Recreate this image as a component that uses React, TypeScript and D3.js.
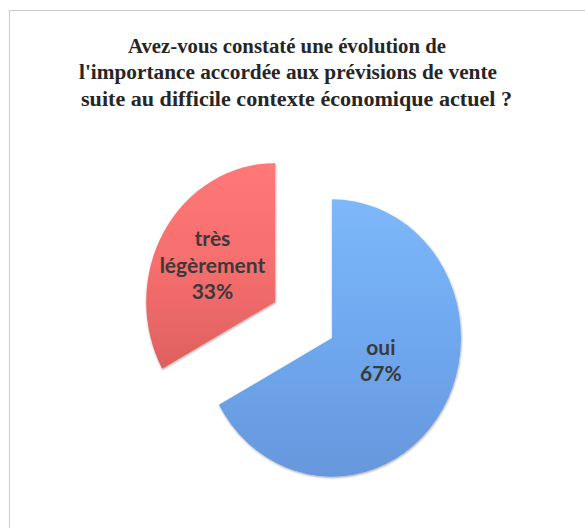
import React from 'react';
import * as d3 from 'd3';

const titleLines = [
  "Avez-vous constaté une évolution de",
  "l'importance accordée aux prévisions de vente",
  "suite au difficile contexte économique actuel ?",
];
const categories = ["oui", "très légèrement"];
const values = [67, 33];
const percentLabels = ["67%", "33%"];
const labelWords = [["oui"], ["très", "légèrement"]];

const W = 585;
const H = 528;
const cx = 332;
const cy = 338;
const R = 129;
const SY = 1.075;
const EXPLODE = [0, 66];
const titleBox = [
  { x: 128, w: 318 },
  { x: 79, w: 418 },
  { x: 81, w: 431 },
];
const palette = [
  { top: "#7db8fa", mid: "#6fa8ef", bottom: "#6697dc" },
  { top: "#ff7878", mid: "#f66e6e", bottom: "#de6060" },
];

export default function App() {
  const pie = d3.pie<number>().sort(null).value((d) => d);
  const arcs = pie(values);
  const arc = d3.arc<d3.PieArcDatum<number>>().innerRadius(0).outerRadius(R);

  return (
    <svg
      width={W}
      height={H}
      style={{ position: 'absolute', left: 0, top: 0, background: '#fff' }}
    >
      <defs>
        {palette.map((p, i) => (
          <linearGradient key={i} id={`g${i}`} x1="0" y1="0" x2="0" y2="1">
            <stop offset="0%" stopColor={p.top} />
            <stop offset="50%" stopColor={p.mid} />
            <stop offset="100%" stopColor={p.bottom} />
          </linearGradient>
        ))}
        <filter id="sh" x="-20%" y="-20%" width="140%" height="140%">
          <feDropShadow dx="0.5" dy="1" stdDeviation="1.2" floodColor="#000" floodOpacity="0.35" />
        </filter>
      </defs>
      <rect x={9.5} y={10.5} width={620} height={560} fill="#fff" stroke="#c9c9c9" strokeWidth={1} />
      <g fontFamily="'Liberation Serif', 'Times New Roman', serif" fontWeight="bold" fontSize={20.5} fill="#262626">
        {titleLines.map((t, i) => (
          <text
            key={i}
            x={titleBox[i].x}
            y={53 + i * 26.3}
            textLength={titleBox[i].w}
            lengthAdjust="spacingAndGlyphs"
          >
            {t}
          </text>
        ))}
      </g>
      {arcs.map((a, i) => {
        const mid = (a.startAngle + a.endAngle) / 2;
        const ox = Math.sin(mid) * EXPLODE[i];
        const oy = -Math.cos(mid) * EXPLODE[i] * SY;
        return (
          <g key={categories[i]} transform={`translate(${cx + ox},${cy + oy}) scale(1,${SY})`}>
            <path d={arc(a) || ''} fill={`url(#g${i})`} filter="url(#sh)" />
          </g>
        );
      })}
      {arcs.map((a, i) => {
        const mid = (a.startAngle + a.endAngle) / 2;
        const ox = Math.sin(mid) * EXPLODE[i];
        const oy = -Math.cos(mid) * EXPLODE[i] * SY;
        const labelArc = d3.arc<d3.PieArcDatum<number>>().innerRadius(0).outerRadius(R * (i === 0 ? 0.88 : 1.13));
        const [lx, ly] = labelArc.centroid(a);
        const x = cx + ox + lx;
        const y = cy + oy + ly * SY;
        const lines = [...labelWords[i], percentLabels[i]];
        const lh = 26.5;
        const y0 = y - ((lines.length - 1) / 2) * lh - (i === 0 ? 10 : -2);
        return (
          <text
            key={`l${i}`}
            x={x}
            fontFamily="Lato, 'Open Sans', sans-serif"
            fontWeight="bold"
            fontSize={21}
            fill="#3a3a3a"
            textAnchor="middle"
            dominantBaseline="central"
          >
            {lines.map((ln, j) => (
              <tspan key={j} x={x} y={y0 + j * lh}>{ln}</tspan>
            ))}
          </text>
        );
      })}
    </svg>
  );
}
